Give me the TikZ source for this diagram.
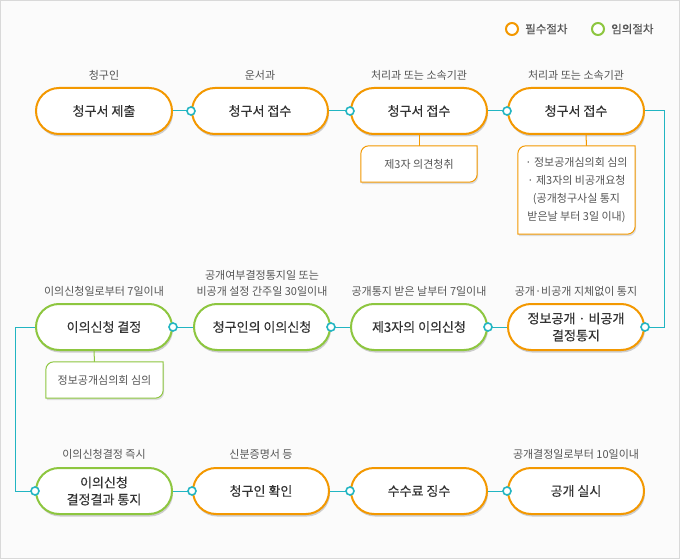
\documentclass[tikz,border=0pt]{standalone}
\usepackage{fontspec}
\setmainfont{Noto Sans CJK KR}
\newfontfamily\boxfont[FakeBold=0.35]{Noto Sans CJK KR}
\usetikzlibrary{shadows,calc}
\definecolor{orn}{HTML}{F39800}
\definecolor{grn}{HTML}{8DC63F}
\definecolor{tl}{HTML}{22B5C2}
\definecolor{txt}{HTML}{333333}
\definecolor{lbl}{HTML}{555555}
\definecolor{bg}{HTML}{FBFBFB}
\newcommand\leafbox[2]{%
  \fill[black,opacity=0.12] ([shift={(1pt,-2pt)}]#1.west) [rounded corners=8pt] |- ([shift={(1pt,-2pt)}]#1.north) [sharp corners] -| ([shift={(1pt,-2pt)}]#1.east) [rounded corners=8pt] |- ([shift={(1pt,-2pt)}]#1.south) [sharp corners] -| ([shift={(1pt,-2pt)}]#1.west);
  \draw[#2,line width=1pt,fill=white] (#1.west) [rounded corners=8pt] |- (#1.north) [sharp corners] -| (#1.east) [rounded corners=8pt] |- (#1.south) [sharp corners] -| (#1.west) -- cycle;
}
\begin{document}
\begin{tikzpicture}[x=1pt,y=-1pt,
  pill/.style={rectangle, rounded corners=23pt, minimum width=136pt, minimum height=46pt,
    line width=2pt, fill=white, text=txt, align=center, inner sep=0pt,
    font=\boxfont\fontsize{13}{17}\selectfont,
    drop shadow={shadow xshift=1pt, shadow yshift=-2.5pt, fill=black, opacity=0.18}},
  req/.style={pill, draw=orn},
  opt/.style={pill, draw=grn},
  lab/.style={font=\fontsize{11}{16}\selectfont, text=lbl, align=center, inner sep=0pt},
  subtxt/.style={font=\fontsize{11}{18}\selectfont, text=lbl, align=center, inner sep=0pt},
  link/.style={draw=tl, line width=1pt},
  dotc/.style={circle, draw=tl, fill=white, line width=1.6pt, minimum size=8pt, inner sep=0pt},
  legc/.style={circle, line width=2pt, minimum size=12pt, inner sep=0pt, fill=white},
  legt/.style={font=\boxfont\fontsize{11.5}{13}\selectfont, text=lbl, anchor=west, inner sep=0pt}
]
\useasboundingbox (0,0) rectangle (680,559);
\draw[black!15, fill=bg] (0.5,0.5) rectangle (679.5,558.5);

% legend
\node[legc, draw=orn] (lg1) at (512,29) {};
\node[legt] (lt1) at (525,29) {필수절차};
\node[legc, draw=grn] (lg2) at (598,29) {};
\node[legt] (lt2) at (611,29) {임의절차};

% row 1
\node[req] (n1) at (104,111) {청구서 제출};
\node[req] (n2) at (260,111) {청구서 접수};
\node[req] (n3) at (419,111) {청구서 접수};
\node[req] (n4) at (576,111) {청구서 접수};
\node[lab] (l1) at (104,75) {청구인};
\node[lab] (l2) at (260,75) {운서과};
\node[lab] (l3) at (419,75) {처리과 또는 소속기관};
\node[lab] (l4) at (576,75) {처리과 또는 소속기관};

% sub boxes row 1
\node[minimum width=116pt, minimum height=36pt, inner sep=0pt] (s1) at (419,164) {};
\node[minimum width=117pt, minimum height=88pt, inner sep=0pt] (s2) at (576.5,190) {};
\draw[orn, line width=1pt] (n3.south) -- (s1.north);
\draw[orn, line width=1pt] ([xshift=10pt]n4.south) -- ([xshift=10pt]s2.north);
\leafbox{s1}{orn}
\leafbox{s2}{orn}
\node[subtxt] (s1t) at (s1) {제3자 의견청취};
\node[subtxt] (s2t) at (s2) {· 정보공개심의회 심의\\· 제3자의 비공개요청\\ (공개청구사실 통지\\ 받은날 부터 3일 이내)};

% row 2
\node[req] (m1) at (576,327) {정보공개 · 비공개\\결정통지};
\node[opt] (m2) at (419,327) {제3자의 이의신청};
\node[opt] (m3) at (262,327) {청구인의 이의신청};
\node[opt] (m4) at (104,327) {이의신청 결정};
\node[lab] (k1) at (576,291) {공개·비공개 지체없이 통지};
\node[lab] (k2) at (419,291) {공개통지 받은 날부터 7일이내};
\node[lab] (k3) at (262,283) {공개여부결정통지일 또는\\비공개 설정 간주일 30일이내};
\node[lab] (k4) at (104,291) {이의신청일로부터 7일이내};

\node[minimum width=117pt, minimum height=36pt, inner sep=0pt] (s3) at (104.5,380) {};
\draw[grn, line width=1pt] ([xshift=-10pt]m4.south) -- ([xshift=-10pt]s3.north);
\leafbox{s3}{grn}
\node[subtxt] (s3t) at (s3) {정보공개심의회 심의};

% row 3
\node[opt] (r1) at (104,491) {이의신청\\결정결과 통지};
\node[req] (r2) at (261,491) {청구인 확인};
\node[req] (r3) at (419,491) {수수료 징수};
\node[req] (r4) at (576,491) {공개 실시};
\node[lab] (q1) at (104,454) {이의신청결정 즉시};
\node[lab] (q2) at (261,454) {신분증명서 등};
\node[lab] (q4) at (576,454) {공개결정일로부터 10일이내};

% connectors
\draw[link] (n1.east) -- (n2.west);
\draw[link] (n2.east) -- (n3.west);
\draw[link] (n3.east) -- (n4.west);
\draw[link] (n4.east) -- ++(19,0) |- (m1.east);
\draw[link] (m1.west) -- (m2.east);
\draw[link] (m2.west) -- (m3.east);
\draw[link] (m3.west) -- (m4.east);
\draw[link] (m4.west) -- ++(-20,0) |- (r1.west);
\draw[link] (r1.east) -- (r2.west);
\draw[link] (r2.east) -- (r3.west);
\draw[link] (r3.east) -- (r4.west);

\node[dotc] (d1) at (n2.west) {};
\node[dotc] (d2) at (n3.west) {};
\node[dotc] (d3) at (n4.west) {};
\node[dotc] (d4) at (m1.east) {};
\node[dotc] (d5) at (m2.east) {};
\node[dotc] (d6) at (m3.east) {};
\node[dotc] (d7) at (m4.east) {};
\node[dotc] (d8) at (r1.west) {};
\node[dotc] (d9) at (r2.west) {};
\node[dotc] (d10) at (r3.west) {};
\node[dotc] (d11) at (r4.west) {};
\end{tikzpicture}
\end{document}
